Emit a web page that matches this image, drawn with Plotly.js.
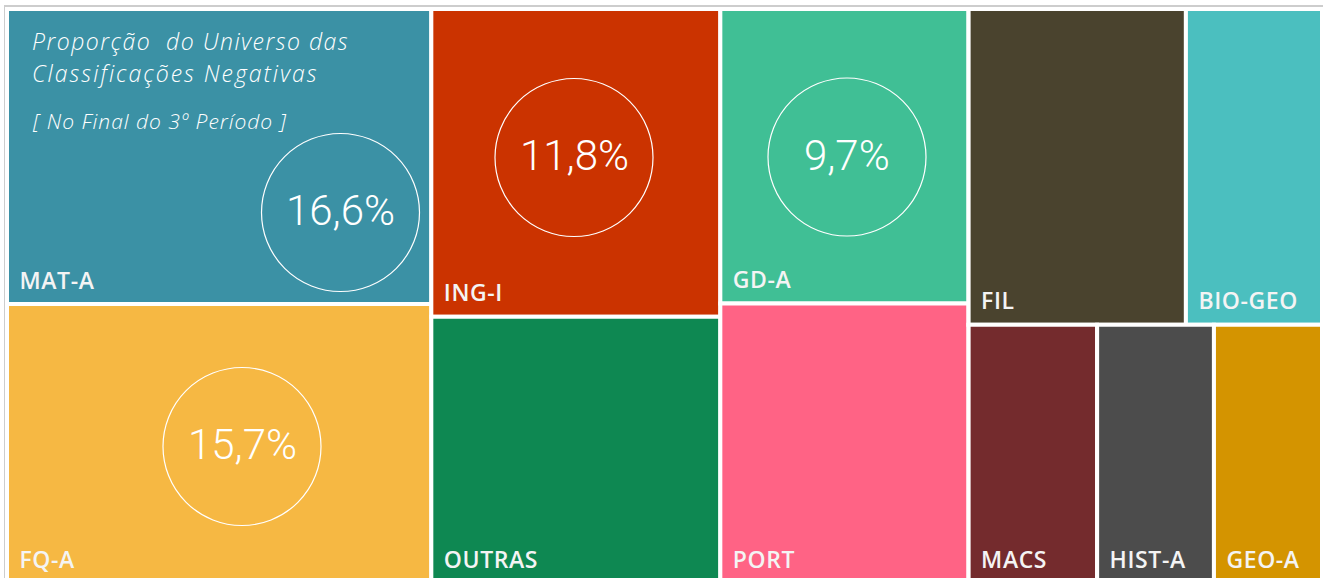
<!DOCTYPE html>
<html><head><meta charset="utf-8">
<script src="https://cdn.plot.ly/plotly-3.0.1.min.js"></script>
<style>
html,body{margin:0;padding:0;overflow:hidden;background:#fff;width:1323px;height:578px}
#frame{position:absolute;left:4px;top:5px;width:1400px;height:700px;border-top:2px solid #cdcdcd;border-left:2px solid #cdcdcd}
#chart{position:absolute;left:0;top:0;width:1323px;height:590px}
</style></head><body>
<div id="frame"></div><div id="chart"></div>
<script>
// ---- data ----
const ids     = ['A','B','C','D','D1','D2','MAT-A','FQ-A','ING-I','OUTRAS','GD-A','PORT','FIL','BIO-GEO','MACS','HIST-A','GEO-A'];
const labels  = ['A','B','C','D','D1','D2','MAT-A','FQ-A','ING-I','OUTRAS','GD-A','PORT','FIL','BIO-GEO','MACS','HIST-A','GEO-A'];
const parents = ['','','','','D','D','A','A','B','B','C','C','D1','D1','D2','D2','D2'];
const values  = [0,0,0,0,0,0,16.6,15.7,11.8,10.2,9.7,9.2,9.1,5.7,4.4,4.0,3.7];
const isGroup = [true,true,true,true,true,true,false,false,false,false,false,false,false,false,false,false,false];
const highlighted = ['MAT-A','FQ-A','ING-I','GD-A'];
const titleLines = ['Proporção\u00a0 do Universo das','Classificações Negativas','[ No Final do 3º Período ]'];

// ---- styles ----
const colors = ['#ffffff','#ffffff','#ffffff','#ffffff','#ffffff','#ffffff',
  '#3B91A5','#F6B843','#CB3300','#0E8852','#40BF95','#FF6385','#4A432E','#4BBFBF','#742B2D','#4C4C4C','#D49400'];

const W = 1323, H = 590, M = {l:7, r:1, t:9, b:7};
const px = x => (x - M.l) / (W - M.l - M.r);
const py = y => 1 - (y - M.t) / (H - M.t - M.b);

const templates = ids.map((id,i) => isGroup[i] ? ' ' :
  "<span style='font-size:23px;letter-spacing:0.6px'>\u00a0\u200a%{label}</span><br>\u00a0");

const trace = {
  type: 'treemap',
  ids: ids, labels: labels, parents: parents, values: values,
  branchvalues: 'remainder',
  sort: false,
  tiling: {packing: 'slice-dice', pad: 0},
  marker: {colors: colors, line: {color: '#ffffff', width: 4}, pad: {t:0, l:0, r:0, b:0}, depthfade: false},
  pathbar: {visible: false},
  texttemplate: templates,
  textposition: 'bottom left',
  textfont: {family: 'Open Sans', size: 8, color: '#f4f4f4', weight: 600},
  hoverinfo: 'skip'
};

// circles + percentages
const circlePos = {'MAT-A':[340.5,212.5], 'FQ-A':[242,446.5], 'ING-I':[574,157.5], 'GD-A':[847,157]};
const R = 79;
const shapes = highlighted.map(id => {
  const [cx, cy] = circlePos[id];
  return {type:'circle', xref:'paper', yref:'paper',
    x0: px(cx-R), x1: px(cx+R), y0: py(cy+R), y1: py(cy-R),
    line:{color:'#ffffff', width:1.2}};
});
const annotations = highlighted.map(id => {
  const [cx, cy] = circlePos[id];
  const v = values[ids.indexOf(id)];
  return {xref:'paper', yref:'paper', x: px(cx), y: py(cy-2), xanchor:'center', yanchor:'middle',
    showarrow:false, text: v.toFixed(1).replace('.', ',') + '%',
    font:{family:'Roboto', size:42, color:'#ffffff', weight:300}};
});
const titleY = [41, 73, 121];
const titleSize = [23, 23, 21];
const titleSpacing = [1.5, 2, 1];
titleLines.forEach((t,i) => annotations.push({
  xref:'paper', yref:'paper', x: px(30), y: py(titleY[i]), xanchor:'left', yanchor:'middle',
  showarrow:false, text: "<span style='letter-spacing:" + titleSpacing[i] + "px'>" + t + "</span>",
  font:{family:'Open Sans', size: titleSize[i], color:'#ffffff', weight:300, style:'italic'}
}));

Plotly.newPlot('chart', [trace], {
  width: W, height: H, margin: M,
  paper_bgcolor: 'rgba(0,0,0,0)', plot_bgcolor: 'rgba(0,0,0,0)',
  shapes: shapes, annotations: annotations, showlegend: false
}, {displayModeBar: false, staticPlot: true});
</script></body></html>
